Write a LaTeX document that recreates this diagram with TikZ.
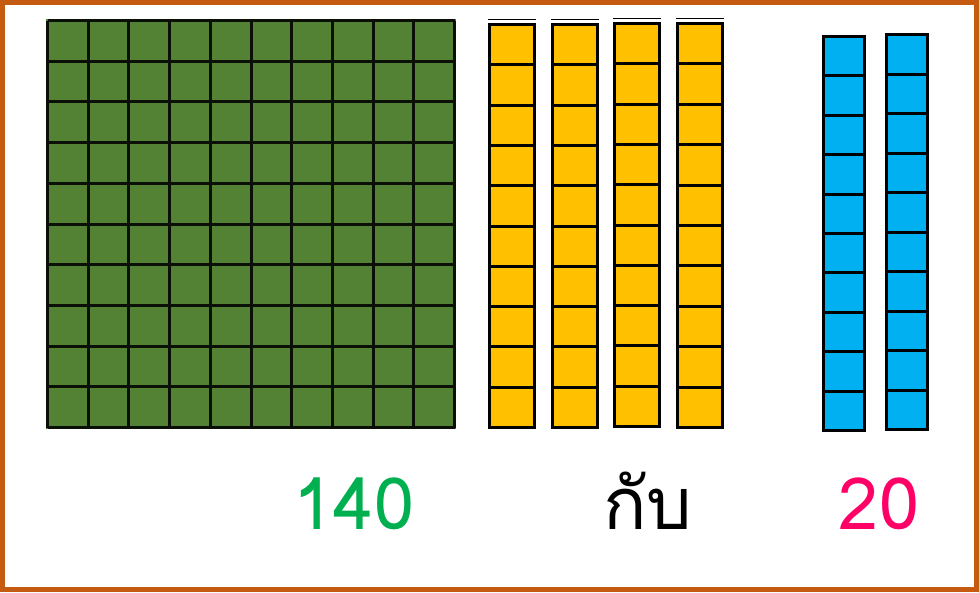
\documentclass[tikz,border=0pt]{standalone}
\usepackage{fontspec}
\newfontfamily\thaifont[Script=Thai]{Loma}
\definecolor{borderc}{HTML}{C55A11}
\definecolor{gfill}{HTML}{548235}
\definecolor{yfill}{HTML}{FFC000}
\definecolor{bfill}{HTML}{00B0F0}
\definecolor{tgreen}{HTML}{00B050}
\definecolor{tpink}{HTML}{FF0066}
\tikzset{
  cellline/.style={line width=3pt, draw=black},
  gridline/.style={line width=3pt, draw=black!88!gfill},
  topline/.style={line width=1.2pt, draw=black},
  lbl/.style={anchor=base, inner sep=0pt, font=\thaifont\fontsize{72}{80}\selectfont}
}
\begin{document}
\begin{tikzpicture}[x=1pt,y=-1pt]
\useasboundingbox (0,0) rectangle (979,592);
\fill[white] (0,0) rectangle (979,592);
\draw[draw=borderc, line width=5pt] (2.5,2.5) rectangle (976.5,589.5);
% green hundred square
\fill[gfill] (46,19) rectangle (456,429);
\foreach \i in {0,...,10}{
  \draw[gridline] ({47.5+40.7*\i},20.5) -- ({47.5+40.7*\i},427.5);
  \draw[gridline] (47.5,{20.5+40.7*\i}) -- (454.5,{20.5+40.7*\i});
}
% yellow tens
\foreach \xa/\xb/\ya/\yb/\yl in {488/536/23/429/19.5, 551/599/23/429/19.5, 613/661/22/428/18.5, 676/724/22/429/18.5}{
  \fill[yfill] (\xa,\ya) rectangle (\xb,\yb);
  \foreach \k in {1,...,9}{
    \draw[cellline] (\xa,{\ya+1.5+(\yb-\ya-3)*\k/10}) -- (\xb,{\ya+1.5+(\yb-\ya-3)*\k/10});
  }
  \draw[cellline] (\xa+1.5,\ya+1.5) rectangle (\xb-1.5,\yb-1.5);
  \draw[topline] (\xa,\yl) -- (\xb,\yl);
}
% blue tens
\foreach \xa/\xb/\ya/\yb in {822/866/35/432, 885/929/33/431}{
  \fill[bfill] (\xa,\ya) rectangle (\xb,\yb);
  \foreach \k in {1,...,9}{
    \draw[cellline] (\xa,{\ya+1.5+(\yb-\ya-3)*\k/10}) -- (\xb,{\ya+1.5+(\yb-\ya-3)*\k/10});
  }
  \draw[cellline] (\xa+1.5,\ya+1.5) rectangle (\xb-1.5,\yb-1.5);
}
\node[lbl, text=tgreen] (n140) at (354,529) {140};
\node[lbl, text=black] (kab) at (648,529) {กับ};
\node[lbl, text=tpink] (n20) at (879,529) {20};
\end{tikzpicture}
\end{document}
